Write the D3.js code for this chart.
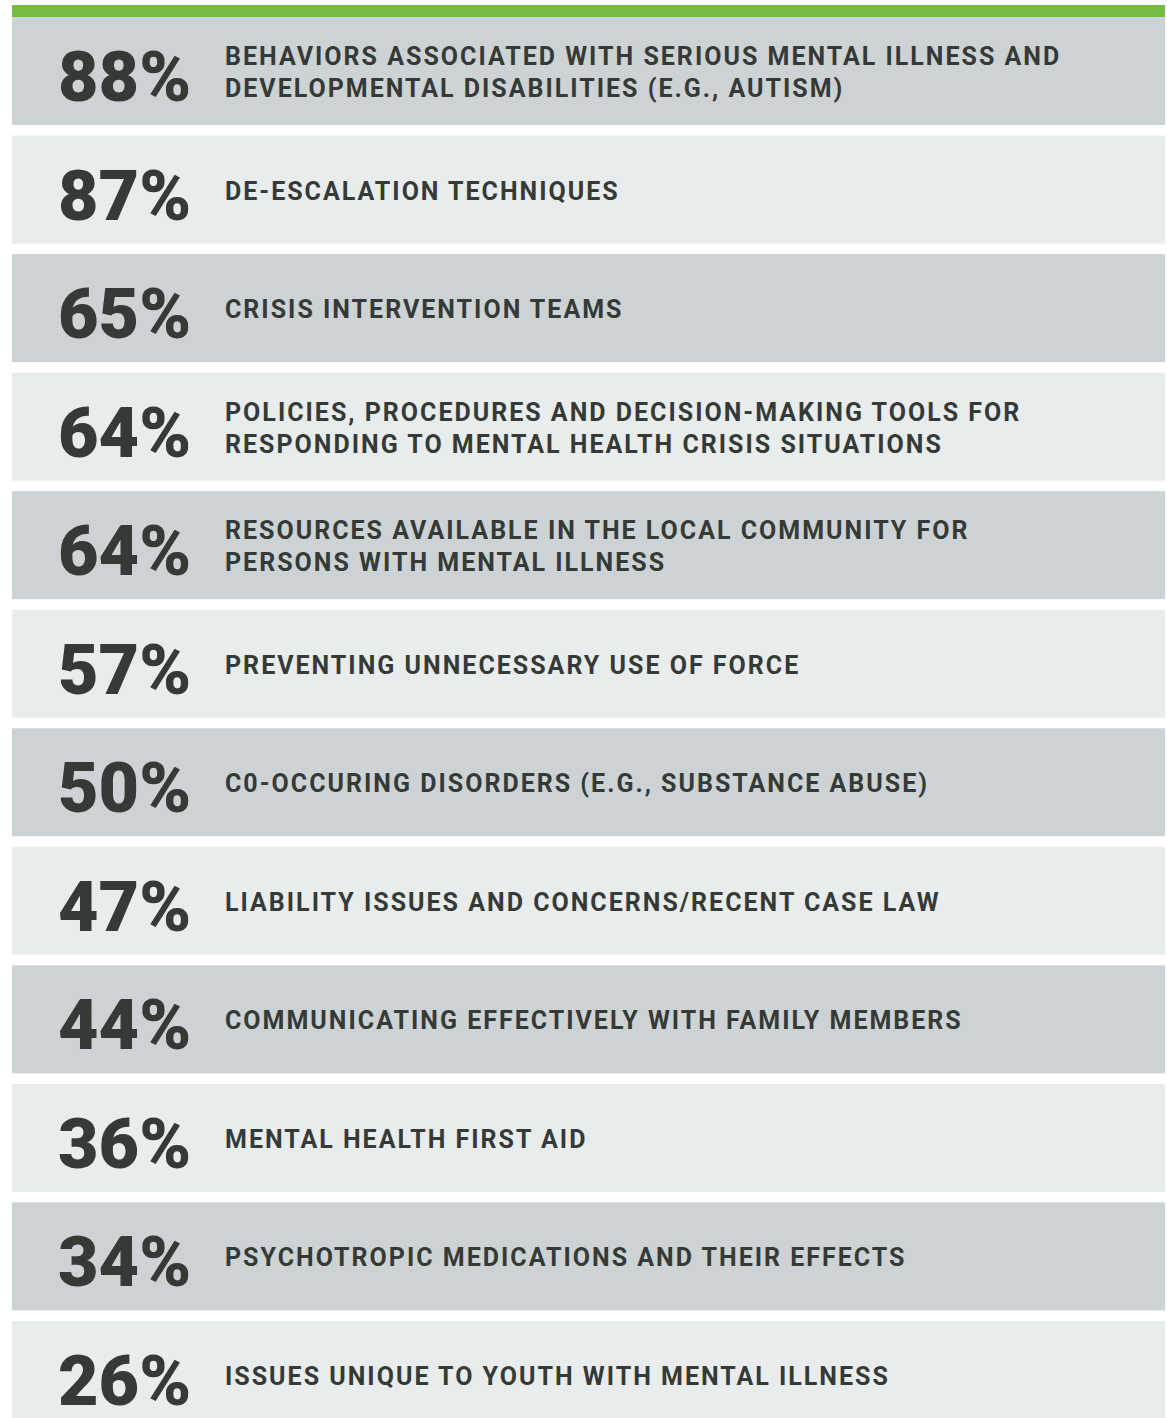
<!DOCTYPE html>
<html>
<head>
<meta charset="utf-8">
<script src="https://d3js.org/d3.v7.min.js"></script>
<style>
html,body{margin:0;padding:0;background:#fff;}
svg{display:block;}
</style>
</head>
<body>
<svg id="chart" width="1167" height="1418"></svg>
<script>
const percents = [88, 87, 65, 64, 64, 57, 50, 47, 44, 36, 34, 26];
const labels = [
  ["BEHAVIORS ASSOCIATED WITH SERIOUS MENTAL ILLNESS AND", "DEVELOPMENTAL DISABILITIES (E.G., AUTISM)"],
  ["DE-ESCALATION TECHNIQUES"],
  ["CRISIS INTERVENTION TEAMS"],
  ["POLICIES, PROCEDURES AND DECISION-MAKING TOOLS FOR", "RESPONDING TO MENTAL HEALTH CRISIS SITUATIONS"],
  ["RESOURCES AVAILABLE IN THE LOCAL COMMUNITY FOR", "PERSONS WITH MENTAL ILLNESS"],
  ["PREVENTING UNNECESSARY USE OF FORCE"],
  ["C0-OCCURING DISORDERS (E.G., SUBSTANCE ABUSE)"],
  ["LIABILITY ISSUES AND CONCERNS/RECENT CASE LAW"],
  ["COMMUNICATING EFFECTIVELY WITH FAMILY MEMBERS"],
  ["MENTAL HEALTH FIRST AID"],
  ["PSYCHOTROPIC MEDICATIONS AND THEIR EFFECTS"],
  ["ISSUES UNIQUE TO YOUTH WITH MENTAL ILLNESS"]
];

const svg = d3.select("#chart");
const x0 = 12, x1 = 1165;
const y = d3.scaleBand()
  .domain(d3.range(percents.length))
  .range([17, 1429])
  .paddingInner(0.0886)
  .paddingOuter(0);

svg.append("rect").attr("x", x0).attr("y", 5).attr("width", x1 - x0).attr("height", 12).attr("fill", "#76BC43");

const rows = svg.selectAll("g.row").data(percents).join("g")
  .attr("class", "row")
  .attr("transform", (d, i) => `translate(0,${y(i)})`);

rows.append("rect")
  .attr("x", x0).attr("y", 0)
  .attr("width", x1 - x0)
  .attr("height", y.bandwidth())
  .attr("fill", (d, i) => i % 2 === 0 ? "#CDD2D5" : "#E8ECED");

const bw = y.bandwidth();
rows.append("text")
  .attr("x", 58)
  .attr("y", bw / 2 + 30)
  .attr("font-family", "Roboto, sans-serif")
  .attr("font-weight", 900)
  .attr("font-size", 70)
  .attr("fill", "#353A37")
  .text(d => d + "%");

rows.each(function(d, i) {
  const g = d3.select(this);
  const lines = labels[i];
  const lh = 32;
  const base = bw / 2 + 10 - (lines.length - 1) * lh / 2;
  const t = g.append("text")
    .attr("font-family", "Roboto, sans-serif")
    .attr("font-weight", 700)
    .attr("font-size", 25)
    .attr("letter-spacing", 2)
    .attr("fill", "#353A37");
  lines.forEach((ln, k) => {
    t.append("tspan").attr("x", 225).attr("y", base + k * lh).text(ln);
  });
});
</script>
</body>
</html>
